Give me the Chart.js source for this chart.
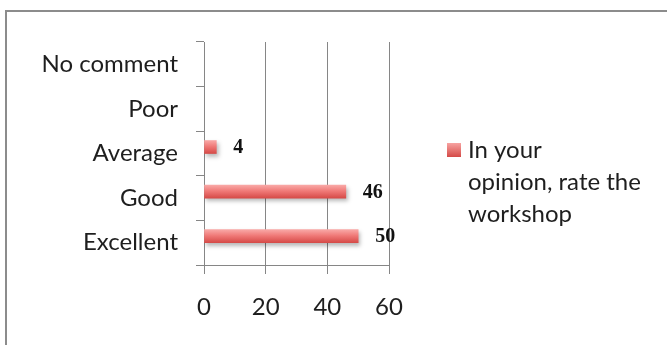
<!DOCTYPE html>
<html>
<head>
<meta charset="utf-8">
<script src="https://cdn.jsdelivr.net/npm/chart.js@4.4.0/dist/chart.umd.min.js"></script>
<style>
  html, body { margin: 0; padding: 0; background: #fff; overflow: hidden; }
  #wrap { position: relative; width: 667px; height: 345px; }
  #frame { position: absolute; left: 5px; top: 10px; width: 700px; height: 400px;
           border: 2px solid #8c8c8c; pointer-events: none; }
</style>
</head>
<body>
<div id="wrap">
  <canvas id="myChart" width="667" height="345"></canvas>
  <div id="frame"></div>
</div>
<script>
const categories = ['Excellent', 'Good', 'Average', 'Poor', 'No comment'];
const ratings = [50, 46, 4, 0, 0];
const seriesLabel = ['In your', 'opinion, rate the', 'workshop'];
const xTicks = [0, 20, 40, 60];

const FONT = 'Lato';
const GRID = '#868686';
const TEXT = '#1e1e1e';

// vertical pink-to-red shading like the original bars
function barFill(context) {
  if (!context.raw) return 'rgba(0,0,0,0)';
  const chart = context.chart;
  const y = chart.scales.y;
  const c = y ? y.getPixelForValue(context.dataIndex) : NaN;
  if (!isFinite(c)) return '#ee7070';
  const g = chart.ctx.createLinearGradient(0, c - 13, 0, c);
  g.addColorStop(0, '#f9a8a6');
  g.addColorStop(0.45, '#f07a78');
  g.addColorStop(1, '#d64b48');
  return g;
}

const barExtras = {
  id: 'barExtras',
  beforeDatasetsDraw(chart) {
    const ctx = chart.ctx;
    ctx.save();
    ctx.shadowColor = 'rgba(0,0,0,0.28)';
    ctx.shadowOffsetX = 2;
    ctx.shadowOffsetY = 3;
    ctx.shadowBlur = 4;
  },
  afterDatasetsDraw(chart) {
    const ctx = chart.ctx;
    ctx.restore();
    // value labels
    const meta = chart.getDatasetMeta(0);
    ctx.save();
    ctx.font = 'bold 20px "Liberation Serif"';
    ctx.fillStyle = '#111';
    ctx.textBaseline = 'middle';
    ctx.textAlign = 'left';
    meta.data.forEach((bar, i) => {
      if (!ratings[i]) return;
      ctx.fillText(String(ratings[i]), bar.x + 17, bar.y + 1);
    });
    ctx.restore();
  },
  afterDraw(chart) {
    // legend to the right of the plot
    const ctx = chart.ctx;
    const x = chart.chartArea.right + 58;
    const y = 150;
    ctx.save();
    const g = ctx.createLinearGradient(0, y - 7, 0, y + 7);
    g.addColorStop(0, '#f7a3a1');
    g.addColorStop(1, '#d44a47');
    ctx.fillStyle = g;
    ctx.fillRect(x, y - 7, 14, 14);
    ctx.font = '24px ' + FONT;
    ctx.fillStyle = TEXT;
    ctx.textBaseline = 'middle';
    seriesLabel.forEach((line, i) => ctx.fillText(line, x + 21, y + i * 32));
    ctx.restore();
  }
};

const data = {
  labels: categories,
  datasets: [
    { label: seriesLabel.join(' '), data: ratings, backgroundColor: barFill, barThickness: 13 },
    // empty companion series: keeps the bar in the upper half of its slot as in the original
    { label: '', data: categories.map(() => null), barThickness: 13 }
  ]
};

const config = {
  type: 'bar',
  data: data,
  options: {
    indexAxis: 'y',
    responsive: false,
    animation: false,
    layout: { padding: { left: 0, top: 42, right: 278, bottom: 0 } },
    plugins: { legend: { display: false }, tooltip: { enabled: false } },
    scales: {
      x: {
        min: xTicks[0],
        max: xTicks[xTicks.length - 1],
        ticks: { stepSize: xTicks[1] - xTicks[0], color: TEXT, font: { family: FONT, size: 24 }, padding: 19 },
        grid: { color: GRID, tickLength: 9, tickColor: GRID },
        border: { color: GRID },
        afterFit(scale) { scale.height = 80; }
      },
      y: {
        reverse: true,
        ticks: { color: TEXT, font: { family: FONT, size: 24 }, padding: 18 },
        grid: { offset: true, drawOnChartArea: false, tickLength: 8, color: GRID },
        border: { color: GRID },
        afterFit(scale) { scale.width = 204; }
      }
    }
  },
  plugins: [barExtras]
};

const myChart = new Chart(document.getElementById('myChart'), config);
</script>
</body>
</html>
